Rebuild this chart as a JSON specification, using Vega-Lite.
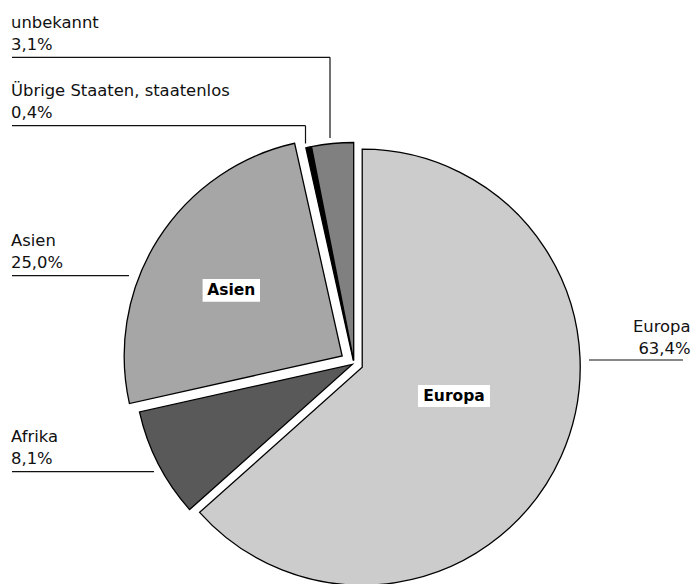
{
  "$schema": "https://vega.github.io/schema/vega-lite/v6.json",
  "width": 682,
  "height": 441,
  "autosize": {"type": "none"},
  "padding": {"left": 13, "top": 143, "right": 0, "bottom": 0},
  "background": "white",
  "config": {"view": {"stroke": null}},
  "datasets": {
    "shares": [
      {"region": "Europa", "pct": 63.4, "n": 1},
      {"region": "Afrika", "pct": 8.1, "n": 2},
      {"region": "Asien", "pct": 25.0, "n": 3},
      {"region": "Übrige Staaten, staatenlos", "pct": 0.4, "n": 4},
      {"region": "unbekannt", "pct": 3.1, "n": 5}
    ],
    "labels": [
      {"text": "unbekannt\n3,1%", "x": 11, "y": 28.4},
      {"text": "Übrige Staaten, staatenlos\n0,4%", "x": 11, "y": 95.7},
      {"text": "Asien\n25,0%", "x": 11, "y": 245.7},
      {"text": "Afrika\n8,1%", "x": 11, "y": 442.3},
      {"text": "Europa\n63,4%", "x": 690.5, "y": 331.7}
    ],
    "leaders": [
      {"x": 12, "y": 57.3, "x2": 330, "y2": 57.3},
      {"x": 330, "y": 57.3, "x2": 330, "y2": 138},
      {"x": 12, "y": 125.7, "x2": 305.5, "y2": 125.7},
      {"x": 305.5, "y": 125.7, "x2": 305.5, "y2": 143.5},
      {"x": 12, "y": 275.7, "x2": 129, "y2": 275.7},
      {"x": 12, "y": 471.7, "x2": 154, "y2": 471.7},
      {"x": 589, "y": 360, "x2": 683, "y2": 360}
    ],
    "tags": [
      {"tag": "Asien", "x": 231.3, "y": 290.4},
      {"tag": "Europa", "x": 454, "y": 396}
    ]
  },
  "layer": [
    {
      "data": {"name": "shares"},
      "mark": {
        "type": "arc",
        "radius": 218,
        "stroke": "#000000",
        "strokeWidth": 1.3,
        "xOffset": {"expr": "(datum.region==='Europa'?9:datum.region==='Afrika'?2:datum.region==='Asien'?14:3)*sin((scale('theta',datum.pct_start)+scale('theta',datum.pct_end))/2)"},
        "yOffset": {"expr": "-(datum.region==='Europa'?9:datum.region==='Afrika'?2:datum.region==='Asien'?14:3)*cos((scale('theta',datum.pct_start)+scale('theta',datum.pct_end))/2)"}
      },
      "encoding": {
        "theta": {"field": "pct", "type": "quantitative", "stack": true},
        "order": {"field": "n", "type": "quantitative"},
        "color": {
          "field": "region",
          "type": "nominal",
          "scale": {
            "domain": ["Europa", "Afrika", "Asien", "Übrige Staaten, staatenlos", "unbekannt"],
            "range": ["#cccccc", "#595959", "#a6a6a6", "#000000", "#808080"]
          },
          "legend": null
        }
      }
    },
    {
      "data": {"name": "leaders"},
      "mark": {"type": "rule", "color": "#111111", "strokeWidth": 1.2},
      "encoding": {
        "x": {"field": "x", "type": "quantitative", "scale": {"domain": [13, 695], "zero": false, "nice": false}, "axis": null},
        "y": {"field": "y", "type": "quantitative", "scale": {"domain": [143, 584], "zero": false, "nice": false, "reverse": true}, "axis": null},
        "x2": {"field": "x2"},
        "y2": {"field": "y2"}
      }
    },
    {
      "data": {"name": "labels"},
      "mark": {
        "type": "text",
        "font": "DejaVu Sans",
        "fontSize": 16.4,
        "lineHeight": 22,
        "lineBreak": "\n",
        "color": "#111111",
        "baseline": "alphabetic",
        "align": {"expr": "datum.x > 500 ? 'right' : 'left'"}
      },
      "encoding": {
        "x": {"field": "x", "type": "quantitative", "scale": {"domain": [13, 695], "zero": false, "nice": false}, "axis": null},
        "y": {"field": "y", "type": "quantitative", "scale": {"domain": [143, 584], "zero": false, "nice": false, "reverse": true}, "axis": null},
        "text": {"field": "text"}
      }
    },
    {
      "data": {"name": "tags"},
      "mark": {"type": "point", "filled": true, "fill": "#ffffff", "opacity": 1, "size": 400, "strokeWidth": 0},
      "encoding": {
        "x": {"field": "x", "type": "quantitative", "scale": {"domain": [13, 695], "zero": false, "nice": false}, "axis": null},
        "y": {"field": "y", "type": "quantitative", "scale": {"domain": [143, 584], "zero": false, "nice": false, "reverse": true}, "axis": null},
        "shape": {
          "field": "tag",
          "type": "nominal",
          "scale": {
            "domain": ["Asien", "Europa"],
            "range": ["M-2.87,-1.13H2.87V1.13H-2.87Z", "M-3.6,-1.1H3.6V1.1H-3.6Z"]
          },
          "legend": null
        }
      }
    },
    {
      "data": {"name": "tags"},
      "mark": {"type": "text", "font": "DejaVu Sans", "fontWeight": "bold", "fontSize": 15.5, "color": "#000000", "align": "center", "baseline": "middle"},
      "encoding": {
        "x": {"field": "x", "type": "quantitative", "scale": {"domain": [13, 695], "zero": false, "nice": false}, "axis": null},
        "y": {"field": "y", "type": "quantitative", "scale": {"domain": [143, 584], "zero": false, "nice": false, "reverse": true}, "axis": null},
        "text": {"field": "tag"}
      }
    }
  ]
}
